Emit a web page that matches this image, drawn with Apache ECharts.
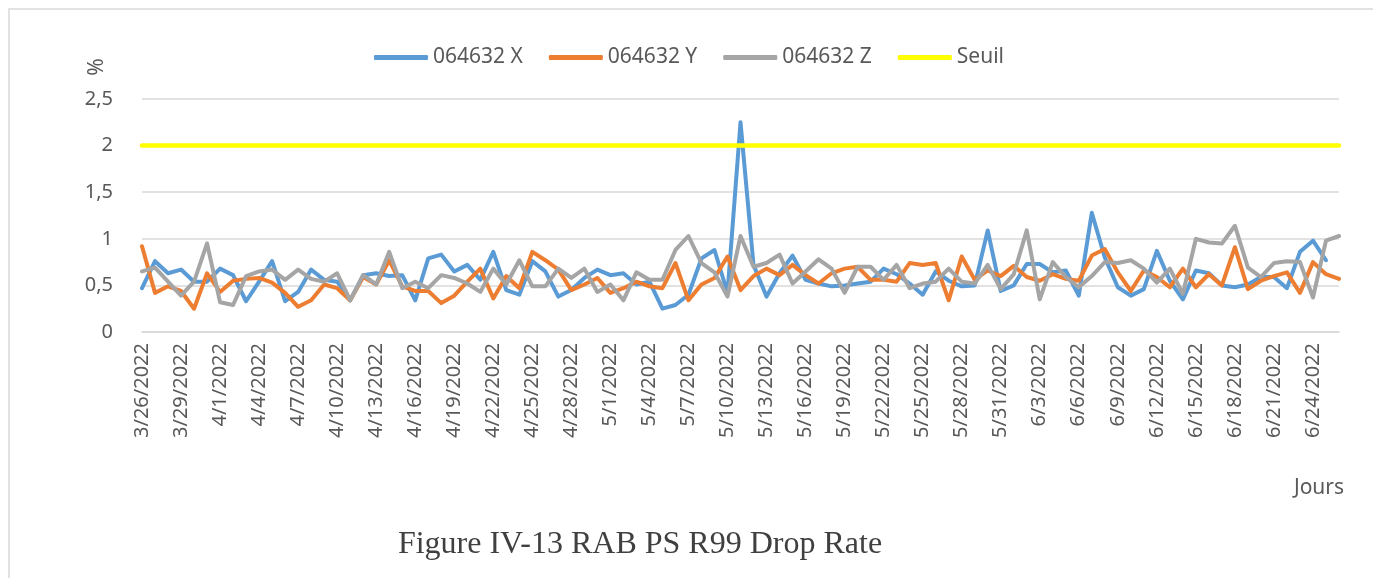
<!DOCTYPE html>
<html>
<head>
<meta charset="utf-8">
<title>RAB PS R99 Drop Rate</title>
<script src="https://cdn.jsdelivr.net/npm/echarts@6.0.0/dist/echarts.min.js"></script>
<style>
  html, body { margin: 0; padding: 0; background: #fff; }
  #chart { width: 1373px; height: 578px; }
</style>
</head>
<body>
<div id="chart"></div>
<script>
// jours (axe des categories)
const jours = [
  '3/26/2022', '3/27/2022', '3/28/2022', '3/29/2022', '3/30/2022', '3/31/2022',
  '4/1/2022', '4/2/2022', '4/3/2022', '4/4/2022', '4/5/2022', '4/6/2022', '4/7/2022', '4/8/2022',
  '4/9/2022', '4/10/2022', '4/11/2022', '4/12/2022', '4/13/2022', '4/14/2022', '4/15/2022',
  '4/16/2022', '4/17/2022', '4/18/2022', '4/19/2022', '4/20/2022', '4/21/2022', '4/22/2022',
  '4/23/2022', '4/24/2022', '4/25/2022', '4/26/2022', '4/27/2022', '4/28/2022', '4/29/2022', '4/30/2022',
  '5/1/2022', '5/2/2022', '5/3/2022', '5/4/2022', '5/5/2022', '5/6/2022', '5/7/2022', '5/8/2022',
  '5/9/2022', '5/10/2022', '5/11/2022', '5/12/2022', '5/13/2022', '5/14/2022', '5/15/2022',
  '5/16/2022', '5/17/2022', '5/18/2022', '5/19/2022', '5/20/2022', '5/21/2022', '5/22/2022',
  '5/23/2022', '5/24/2022', '5/25/2022', '5/26/2022', '5/27/2022', '5/28/2022', '5/29/2022',
  '5/30/2022', '5/31/2022',
  '6/1/2022', '6/2/2022', '6/3/2022', '6/4/2022', '6/5/2022', '6/6/2022', '6/7/2022', '6/8/2022',
  '6/9/2022', '6/10/2022', '6/11/2022', '6/12/2022', '6/13/2022', '6/14/2022', '6/15/2022',
  '6/16/2022', '6/17/2022', '6/18/2022', '6/19/2022', '6/20/2022', '6/21/2022', '6/22/2022',
  '6/23/2022', '6/24/2022', '6/25/2022', '6/26/2022'
]

const serieX = [
  0.47, 0.76, 0.63, 0.67, 0.54, 0.54, 0.68, 0.61, 0.33, 0.54,
  0.76, 0.33, 0.43, 0.67, 0.56, 0.54, 0.34, 0.61, 0.63, 0.6,
  0.61, 0.34, 0.79, 0.83, 0.65, 0.72, 0.56, 0.86, 0.45, 0.4,
  0.76, 0.65, 0.38, 0.45, 0.58, 0.67, 0.61, 0.63, 0.51, 0.54,
  0.25, 0.29, 0.4, 0.79, 0.88, 0.42, 2.25, 0.72, 0.38, 0.63,
  0.82, 0.56, 0.52, 0.49, 0.5, 0.52, 0.54, 0.68, 0.62, 0.52,
  0.4, 0.65, 0.55, 0.49, 0.5, 1.09, 0.44, 0.5, 0.73, 0.73,
  0.64, 0.66, 0.39, 1.28, 0.8, 0.48, 0.39, 0.46, 0.87, 0.55,
  0.35, 0.66, 0.63, 0.5, 0.48, 0.51, 0.59, 0.59, 0.47, 0.86,
  0.98, 0.77, null
]

const serieY = [
  0.92, 0.42, 0.49, 0.44, 0.25, 0.63, 0.43, 0.55, 0.57, 0.58,
  0.53, 0.42, 0.27, 0.34, 0.51, 0.47, 0.34, 0.59, 0.51, 0.77,
  0.49, 0.44, 0.44, 0.31, 0.39, 0.54, 0.68, 0.36, 0.6, 0.47,
  0.86, 0.77, 0.67, 0.45, 0.51, 0.58, 0.42, 0.47, 0.54, 0.49,
  0.47, 0.74, 0.34, 0.51, 0.58, 0.81, 0.45, 0.6, 0.68, 0.61,
  0.72, 0.61, 0.52, 0.63, 0.68, 0.7, 0.56, 0.56, 0.54, 0.74,
  0.72, 0.74, 0.34, 0.81, 0.56, 0.66, 0.6, 0.71, 0.59, 0.55,
  0.62, 0.57, 0.55, 0.82, 0.89, 0.64, 0.44, 0.66, 0.59, 0.48,
  0.68, 0.48, 0.62, 0.5, 0.91, 0.46, 0.55, 0.6, 0.64, 0.42,
  0.75, 0.62, 0.57
]

const serieZ = [
  0.65, 0.69, 0.54, 0.39, 0.54, 0.95, 0.32, 0.29, 0.6, 0.65,
  0.67, 0.56, 0.67, 0.57, 0.54, 0.63, 0.34, 0.61, 0.51, 0.86,
  0.47, 0.54, 0.47, 0.61, 0.58, 0.52, 0.43, 0.68, 0.51, 0.77,
  0.49, 0.49, 0.68, 0.58, 0.68, 0.43, 0.51, 0.34, 0.64, 0.56,
  0.56, 0.88, 1.03, 0.74, 0.64, 0.38, 1.03, 0.7, 0.74, 0.83,
  0.52, 0.65, 0.78, 0.68, 0.42, 0.7, 0.7, 0.56, 0.72, 0.47,
  0.52, 0.54, 0.68, 0.54, 0.52, 0.72, 0.46, 0.62, 1.09, 0.35,
  0.75, 0.59, 0.48, 0.6, 0.75, 0.74, 0.77, 0.68, 0.53, 0.68,
  0.41, 1.0, 0.96, 0.95, 1.14, 0.69, 0.59, 0.74, 0.76, 0.75,
  0.37, 0.98, 1.03
]

// seuil constant a 2 %
const seuil = jours.map(() => 2)

const yTicks = { min: 0, max: 2.5, interval: 0.5 }

const txt = '#595959'
const font = "'Noto Sans', sans-serif"

const ligne = (name, data, color, width) => ({
  name,
  type: 'line',
  data,
  showSymbol: false,
  symbol: 'none',
  smooth: false,
  lineStyle: { color, width, cap: 'round', join: 'round' },
  itemStyle: { color },
  emphasis: { disabled: true }
})

const myChart = echarts.init(document.getElementById('chart'), null, { renderer: 'canvas' })

myChart.setOption({
  animation: false,
  backgroundColor: '#fff',
  textStyle: { fontFamily: font },
  legend: {
    left: 369,
    top: 42,
    icon: 'roundRect',
    itemWidth: 54,
    itemHeight: 5,
    itemGap: 26,
    textStyle: { color: txt, fontSize: 21, fontFamily: font },
    data: ['064632 X', '064632 Y', '064632 Z', 'Seuil']
  },
  grid: {
    left: 142,
    right: 34,
    top: 99,
    bottom: 246,
    containLabel: false,
    outerBoundsMode: 'none'
  },
  xAxis: {
    type: 'category',
    data: jours,
    boundaryGap: false,
    axisLine: { show: true, lineStyle: { color: '#D9D9D9', width: 1.5 } },
    axisTick: { show: false },
    axisLabel: {
      interval: 2,
      rotate: 90,
      margin: 11,
      color: txt,
      fontSize: 20,
      fontFamily: font
    },
    splitLine: { show: false }
  },
  yAxis: {
    type: 'value',
    min: yTicks.min,
    max: yTicks.max,
    interval: yTicks.interval,
    axisLine: { show: false },
    axisTick: { show: false },
    axisLabel: {
      margin: 29,
      color: txt,
      fontSize: 20,
      fontFamily: font,
      formatter: (v) => String(v).replace('.', ',')
    },
    splitLine: { show: true, lineStyle: { color: '#D9D9D9', width: 1.5 } }
  },
  series: [
    ligne('064632 X', serieX, '#5B9BD5', 4),
    ligne('064632 Y', serieY, '#ED7D31', 4),
    ligne('064632 Z', serieZ, '#A5A5A5', 4),
    ligne('Seuil', seuil, '#FFFF00', 4.5)
  ],
  graphic: [
    {
      // cadre du graphique
      type: 'rect',
      silent: true,
      shape: { x: 9, y: 9, width: 1420, height: 620 },
      style: { fill: 'none', stroke: '#D9D9D9', lineWidth: 1.5 }
    },
    {
      type: 'text',
      x: 97,
      y: 67,
      rotation: Math.PI / 2,
      style: {
        text: '%', fill: txt, fontSize: 21, fontFamily: font,
        textAlign: 'center', textVerticalAlign: 'middle'
      }
    },
    {
      type: 'text',
      x: 1319,
      y: 488,
      style: {
        text: 'Jours', fill: txt, fontSize: 21, fontFamily: font,
        textAlign: 'center', textVerticalAlign: 'middle'
      }
    },
    {
      type: 'text',
      x: 640,
      y: 545,
      style: {
        text: 'Figure IV-13 RAB PS R99 Drop Rate',
        fill: '#404040',
        fontSize: 32,
        fontFamily: "'Liberation Serif', serif",
        textAlign: 'center',
        textVerticalAlign: 'middle'
      }
    }
  ]
})
</script>
</body>
</html>
